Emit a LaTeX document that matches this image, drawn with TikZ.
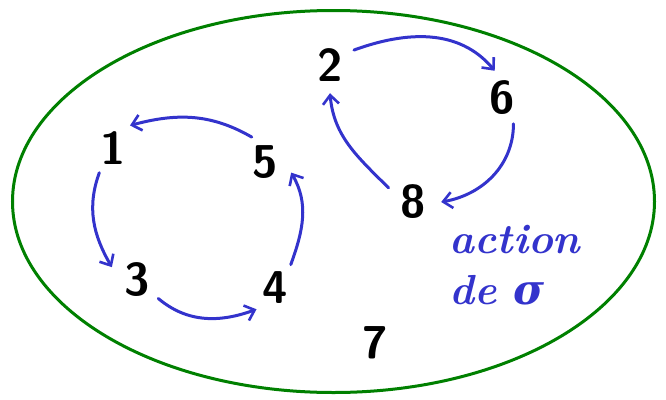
\documentclass[tikz,border=0pt]{standalone}
\usepackage{fontspec}
\newfontfamily\grk{DejaVu Serif}
\usetikzlibrary{arrows.meta}
\definecolor{pen}{RGB}{51,51,204}
\definecolor{frame}{RGB}{0,128,0}
\begin{document}
\begin{tikzpicture}[x=1pt,y=-1pt,
  num/.style={circle,minimum size=56pt,inner sep=0pt,font=\sffamily\bfseries\fontsize{46}{46}\selectfont},
  cyc/.style={draw=pen,line width=3pt,line cap=round,-{Straight Barb[length=9pt,width=16pt,line width=2.6pt]}},
  lbl/.style={text=pen,font=\bfseries\itshape\fontsize{42}{42}\selectfont,inner sep=0pt}]
\useasboundingbox (0,0) rectangle (666,399);
\draw[frame,line width=3pt] (333.5,201.5) ellipse [x radius=321,y radius=191];
\node[num] (n1) at (113,148) {1};
\node[num] (n3) at (137,280) {3};
\node[num] (n4) at (275,288) {4};
\node[num] (n5) at (265,162) {5};
\node[num] (n2) at (330,65) {2};
\node[num] (n6) at (502,98) {6};
\node[num] (n8) at (413,202) {8};
\node[num] (n7) at (375,343) {7};
\node[lbl] (a1) at (515,240) {action};
\node[lbl] (a2) at (497,290) {de {\grk σ}};
\draw[cyc] (n5.118) to[out=150,in=15] (n1.53);
\draw[cyc] (n1.241) to[out=250,in=120] (n3.153);
\draw[cyc] (n3.-41) to[out=-40,in=200] (n4.229);
\draw[cyc] (n4.56) to[out=70,in=-60] (n5.-22);
\draw[cyc] (n2.32) to[out=20,in=130] (n6.105);
\draw[cyc] (n6.-66) to[out=-90,in=10] (n8.0);
\draw[cyc] (n8.150) to[out=135,in=-85] (n2.-90);
\end{tikzpicture}
\end{document}
